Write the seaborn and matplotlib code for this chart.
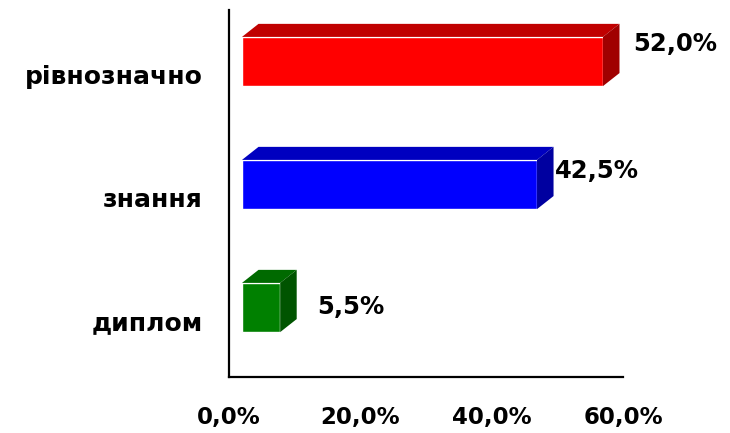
import matplotlib
matplotlib.use("Agg")
import matplotlib.pyplot as plt
import matplotlib.ticker as mticker
from matplotlib.patches import Polygon
from matplotlib.transforms import ScaledTranslation
import seaborn as sns

categories = ["рівнозначно", "знання", "диплом"]
values = [52.0, 42.5, 5.5]
x_ticks = [0, 20, 40, 60]

front_colors = ["#FF0000", "#0000FF", "#008000"]
top_colors = ["#C00000", "#0000C0", "#006A00"]
side_colors = ["#A00000", "#0000A0", "#005400"]

sns.set_style("white")
plt.rcParams["font.family"] = ["DejaVu Sans"]
plt.rcParams["font.weight"] = "bold"
plt.rcParams["text.color"] = "black"
plt.rcParams["xtick.color"] = "black"
plt.rcParams["ytick.color"] = "black"

fig = plt.figure(figsize=(7.3, 4.33), dpi=100)

# axis frame with the percent scale
ax = fig.add_axes([229 / 730, 56 / 433, 394 / 730, 367 / 433])
ax.set_xlim(0, 60)
ax.set_ylim(0, 1)
ax.set_xticks(x_ticks)
ax.xaxis.set_major_formatter(
    mticker.FuncFormatter(lambda v, p: f"{v:.1f}%".replace(".", ",")))
ax.set_yticks([])
ax.tick_params(axis="x", length=0, pad=21, labelsize=16.5, labelcolor="black")
for lab in ax.get_xticklabels():
    lab.set_fontweight("bold")
for s in ["top", "right"]:
    ax.spines[s].set_visible(False)
for s in ["left", "bottom"]:
    ax.spines[s].set_color("black")
    ax.spines[s].set_linewidth(1.6)
ax.patch.set_alpha(0)

# bars (drawn in a projected "3d" space like the original)
axb = fig.add_axes([242 / 730, 64 / 433, 416.5 / 730, 369 / 433])
axb.patch.set_alpha(0)
sns.barplot(x=values, y=categories, hue=categories, palette=front_colors,
            orient="h", width=0.4, legend=False, ax=axb, saturation=1)
axb.set_xlim(0, 60)
axb.set_ylim(2.5, -0.5)
axb.set_xticks([])
axb.set_xlabel("")
axb.set_ylabel("")
sns.despine(ax=axb, left=True, bottom=True)
axb.tick_params(axis="y", length=0, pad=28, labelsize=18, labelcolor="black")

dx, dy = 2.38, 0.106
for i, v in enumerate(values):
    yt, yb = i - 0.2, i + 0.2
    top = [(0, yt), (dx, yt - dy), (v + dx, yt - dy), (v, yt)]
    side = [(v, yt), (v + dx, yt - dy), (v + dx, yb - dy), (v, yb)]
    axb.add_patch(Polygon(top, closed=True, fc=top_colors[i], ec="none"))
    axb.add_patch(Polygon(side, closed=True, fc=side_colors[i], ec="none"))

shift = ScaledTranslation(0, -13 / 100, fig.dpi_scale_trans)
for lab in axb.get_yticklabels():
    lab.set_fontweight("bold")
    lab.set_transform(lab.get_transform() + shift)

label_dx = [4.3, 2.6, 5.4]
label_dy = [-0.14, -0.11, 0.0]
for i, v in enumerate(values):
    axb.text(v + label_dx[i], i + label_dy[i], f"{v:.1f}%".replace(".", ","),
             ha="left", va="center", fontsize=17.5, fontweight="bold",
             color="black")

fig.savefig("out.png", dpi=100)
